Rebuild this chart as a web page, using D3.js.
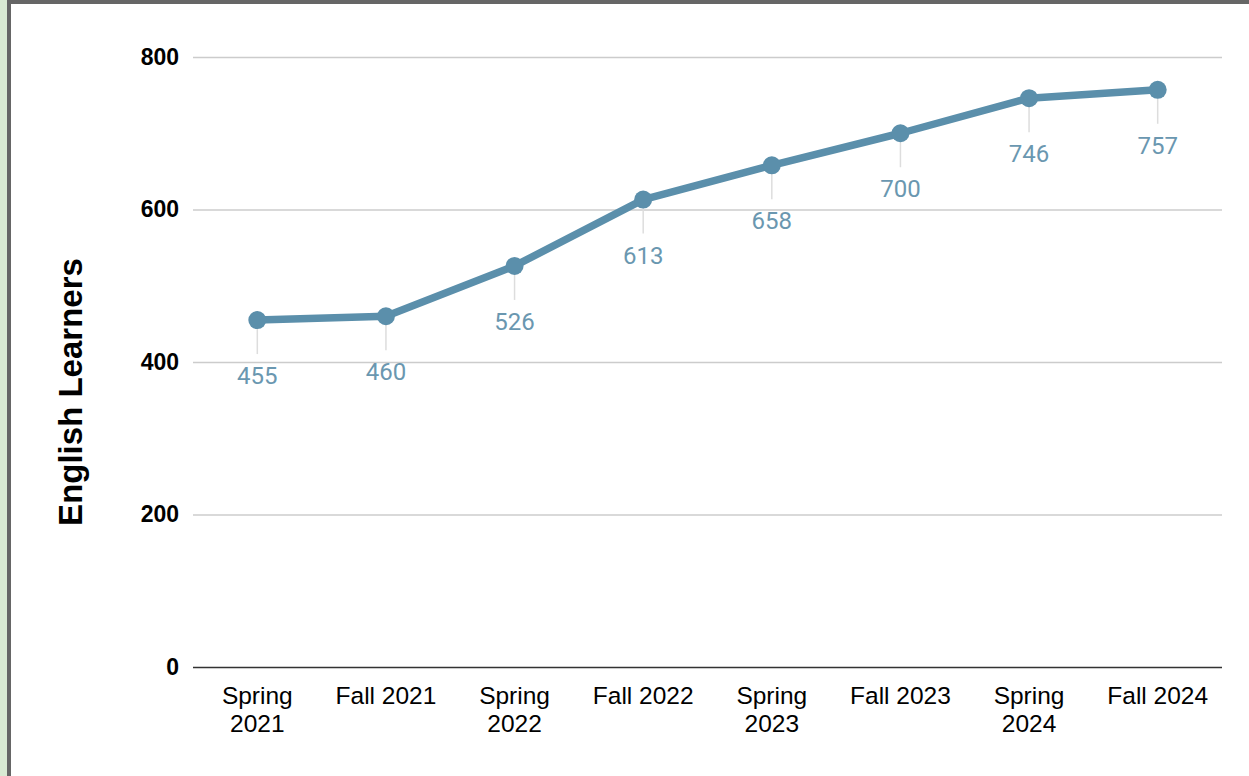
<!DOCTYPE html>
<html><head><meta charset="utf-8">
<script src="https://cdn.jsdelivr.net/npm/d3@7"></script>
<style>
html,body{margin:0;padding:0;background:#fff;}
svg{display:block;}
</style></head>
<body>
<script>
const categories = ["Spring\n2021","Fall 2021","Spring\n2022","Fall 2022","Spring\n2023","Fall 2023","Spring\n2024","Fall 2024"];
const values = [455,460,526,613,658,700,746,757];
const yTicks = [0,200,400,600,800];
const yTitle = "English Learners";

(function(){
const W = 1249, H = 776;
const svg = d3.select("body").append("svg").attr("width", W).attr("height", H);

// frame
svg.append("rect").attr("x",0).attr("y",0).attr("width",7).attr("height",H).attr("fill","#d9ead3");
svg.append("rect").attr("x",7).attr("y",0).attr("width",4).attr("height",H).attr("fill","#666666");
svg.append("rect").attr("x",7).attr("y",0).attr("width",W-7).attr("height",4).attr("fill","#666666");

const mLeft = 193, mRight = 1222, mTop = 57, mBottom = 667;
const x = d3.scaleBand().domain(categories).range([mLeft, mRight]).padding(0);
const y = d3.scaleLinear().domain([0,800]).range([mBottom, mTop]);

// gridlines
const yAxis = d3.axisLeft(y).tickValues(yTicks).tickSize(-(mRight-mLeft)).tickPadding(14).tickFormat(d3.format("d"));
const gy = svg.append("g").attr("transform",`translate(${mLeft},0)`).call(yAxis);
gy.select(".domain").remove();
gy.selectAll(".tick line").attr("stroke", d => d===0 ? "#333" : "#cccccc").attr("stroke-width", d=> d===0?1.5:1.3);
gy.selectAll(".tick text").attr("font-family","Liberation Sans, Arial, sans-serif").attr("font-size",23).attr("font-weight","bold").attr("fill","#000");

// x axis labels
const xAxis = d3.axisBottom(x).tickSize(0).tickPadding(0).tickFormat("");
const gx = svg.append("g").attr("transform",`translate(0,${mBottom})`).call(xAxis);
gx.select(".domain").remove();
gx.selectAll(".tick").each(function(d){
  const lines = d.split("\n");
  const t = d3.select(this).append("text").attr("text-anchor","middle")
    .attr("font-family","Liberation Sans, Arial, sans-serif").attr("font-size",24.5).attr("fill","#000");
  lines.forEach((l,i)=>{
    t.append("tspan").attr("x",0).attr("y", 37 + i*28).text(l);
  });
});

// y title
svg.append("text").attr("transform",`translate(82,${(mTop+mBottom)/2+30}) rotate(-90)`)
  .attr("text-anchor","middle").attr("font-family","Liberation Sans, Arial, sans-serif")
  .attr("font-size",33).attr("font-weight","bold").attr("fill","#000").text(yTitle);

const data = categories.map((c,i)=>({c, v: values[i]}));
const cx = d => x(d.c) + x.bandwidth()/2;

// leader lines
svg.append("g").selectAll("line").data(data).join("line")
  .attr("x1",cx).attr("x2",cx).attr("y1",d=>y(d.v)).attr("y2",d=>y(d.v)+34)
  .attr("stroke","#dddddd").attr("stroke-width",1.5);

// line
const color = "#5b8fab";
svg.append("path").datum(data).attr("fill","none").attr("stroke",color).attr("stroke-width",7.5)
  .attr("stroke-linejoin","round").attr("stroke-linecap","round")
  .attr("d", d3.line().x(cx).y(d=>y(d.v)));

svg.append("g").selectAll("circle").data(data).join("circle")
  .attr("cx",cx).attr("cy",d=>y(d.v)).attr("r",9).attr("fill",color);

// value labels
svg.append("g").selectAll("text").data(data).join("text")
  .attr("x",cx).attr("y",d=>y(d.v)+64).attr("text-anchor","middle")
  .attr("font-family","Roboto, sans-serif").attr("font-size",24).attr("fill","#6a97b0")
  .text(d=>d.v);
})();
</script>
</body></html>
